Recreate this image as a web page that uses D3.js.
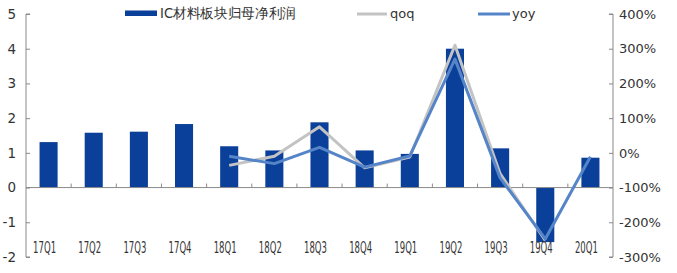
<!DOCTYPE html>
<html><head><meta charset="utf-8">
<script src="https://cdn.jsdelivr.net/npm/d3@7/dist/d3.min.js"></script>
<style>
html,body{margin:0;padding:0;background:#fff;}
svg{display:block;}
text{font-family:"DejaVu Sans",Verdana,sans-serif;fill:#333;}
</style></head>
<body>
<svg id="c" width="677" height="273"></svg>
<script>
const categories = ["17Q1","17Q2","17Q3","17Q4","18Q1","18Q2","18Q3","18Q4","19Q1","19Q2","19Q3","19Q4","20Q1"];
const profit = [1.31,1.58,1.61,1.83,1.19,1.07,1.88,1.07,0.97,4.0,1.13,-1.57,0.86];
const qoq = [null,null,null,null,-36,-10,75,-43,-12,310,-60,-252,null];
const yoy = [null,null,null,null,-10,-31,16,-41,-9,270,-72,-248,-11];
const leftTicks = [5,4,3,2,1,0,-1,-2];
const leftTickLabels = ["5","4","3","2","1","0","-1","-2"];
const rightTicks = [400,300,200,100,0,-100,-200,-300];
const rightTickLabels = ["400%","300%","200%","100%","0%","-100%","-200%","-300%"];
const seriesNames = ["IC材料板块归母净利润","qoq","yoy"];

const m = {l:26, r:613, t:14, b:257};
const barColor = "#0a3f9a", qoqColor = "#c3c3c3", yoyColor = "#5585c8", axisColor = "#8a8a8a";

const svg = d3.select("#c");
const x = d3.scaleBand().domain(categories).range([m.l, m.r]).paddingInner(0.6).paddingOuter(0.3);
const yL = d3.scaleLinear().domain([-2,5]).range([m.b, m.t]);
const yR = d3.scaleLinear().domain([-300,400]).range([m.b, m.t]);
const step = x.step();

// bars
svg.append("g").selectAll("rect").data(profit).join("rect")
  .attr("x",(d,i)=>x(categories[i]))
  .attr("width",x.bandwidth())
  .attr("y",d=>Math.min(yL(d),yL(0)))
  .attr("height",d=>Math.abs(yL(d)-yL(0)))
  .attr("fill",barColor);

// left axis
const gL = svg.append("g").attr("transform",`translate(${m.l},0)`)
  .call(d3.axisRight(yL).tickValues(leftTicks).tickSize(4).tickFormat(""));
gL.select(".domain").attr("stroke",axisColor).attr("d",`M4,${m.t}H0V${m.b}H4`);
gL.selectAll("line").attr("stroke",axisColor);
svg.append("g").selectAll("text").data(leftTicks).join("text")
  .attr("x",16).attr("y",d=>yL(d)).attr("dy","0.36em")
  .attr("text-anchor","end").attr("font-size","13.5px")
  .text((d,i)=>leftTickLabels[i]);

// right axis
const gR = svg.append("g").attr("transform",`translate(${m.r},0)`)
  .call(d3.axisLeft(yR).tickValues(rightTicks).tickSize(4).tickFormat(""));
gR.select(".domain").attr("stroke",axisColor).attr("d",`M-4,${m.t}H0V${m.b}H-4`);
gR.selectAll("line").attr("stroke",axisColor);
svg.append("g").selectAll("text").data(rightTicks).join("text")
  .attr("x",619).attr("y",d=>yR(d)).attr("dy","0.36em")
  .attr("font-size","13px")
  .text((d,i)=>rightTickLabels[i]);

// x axis at 0
const x0 = yL(0);
svg.append("line").attr("x1",m.l).attr("x2",m.r).attr("y1",x0).attr("y2",x0).attr("stroke",axisColor);
svg.append("g").selectAll("line").data(d3.range(1,categories.length)).join("line")
  .attr("x1",d=>m.l+d*step).attr("x2",d=>m.l+d*step)
  .attr("y1",x0).attr("y2",x0-4).attr("stroke",axisColor);
svg.append("g").selectAll("text").data(categories).join("text")
  .attr("x",d=>x(d)+x.bandwidth()/2-4).attr("y",253)
  .attr("text-anchor","middle").attr("font-size","15px")
  .attr("textLength",23).attr("lengthAdjust","spacingAndGlyphs")
  .text(d=>d);

// lines
function drawLine(vals,color){
  const pts = vals.map((v,i)=>({v,i})).filter(p=>p.v!=null);
  svg.append("path").datum(pts)
    .attr("d",d3.line().x(p=>x(categories[p.i])+x.bandwidth()/2).y(p=>yR(p.v)))
    .attr("fill","none").attr("stroke",color).attr("stroke-width",3).attr("stroke-linejoin","round");
}
drawLine(qoq,qoqColor);
drawLine(yoy,yoyColor);

// legend
const lg = svg.append("g");
lg.append("rect").attr("x",125).attr("y",10.5).attr("width",32).attr("height",5.5).attr("fill",barColor);
lg.append("text").attr("x",160).attr("y",13.5).attr("dy","0.36em")
  .attr("font-family","'Noto Sans CJK SC',sans-serif").attr("font-size","13.5px")
  .attr("textLength",136).attr("lengthAdjust","spacingAndGlyphs").text(seriesNames[0]);
lg.append("line").attr("x1",357).attr("x2",387).attr("y1",14).attr("y2",14).attr("stroke",qoqColor).attr("stroke-width",3);
lg.append("text").attr("x",390).attr("y",13.5).attr("dy","0.36em").attr("font-size","13px").text(seriesNames[1]);
lg.append("line").attr("x1",478).attr("x2",510).attr("y1",14).attr("y2",14).attr("stroke",yoyColor).attr("stroke-width",3);
lg.append("text").attr("x",512).attr("y",13.5).attr("dy","0.36em").attr("font-size","13px").text(seriesNames[2]);
</script>
</body></html>
